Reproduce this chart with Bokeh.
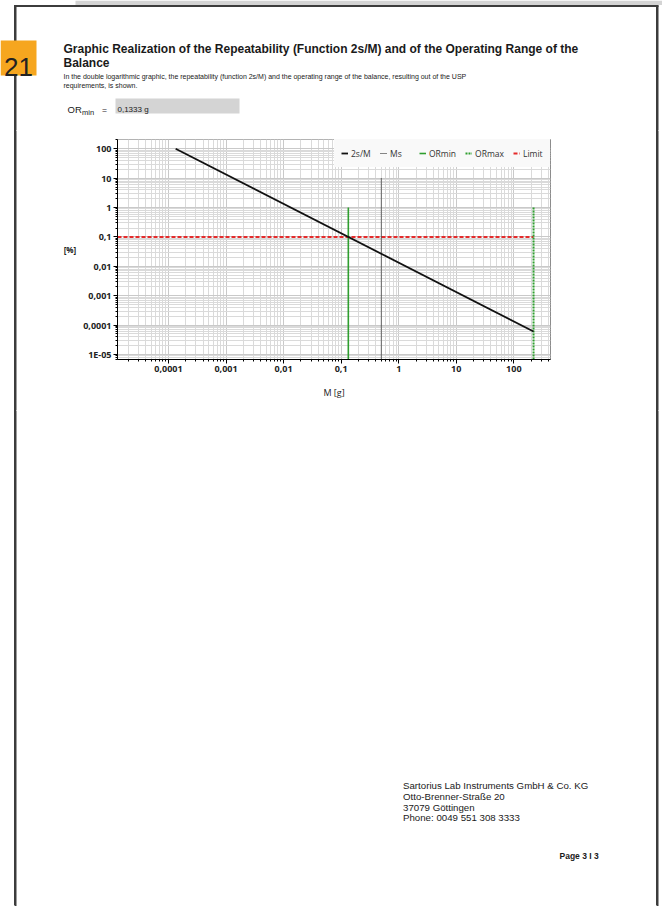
from bokeh.plotting import figure
from bokeh.layouts import column, row
from bokeh.models import Range1d, FixedTicker, CustomJSTickFormatter, Legend, LegendItem
from bokeh.core.properties import value
from bokeh.embed import file_html
from bokeh.resources import INLINE

# ---------------- data ----------------
curve_mass_g = [1.333e-4, 220.0]          # 2s/M curve end points (M in g)
curve_rep_pct = [100.0, 6.06e-5]          # 2s/M in %
ms_mass_g = [0.5, 0.5]
ms_top_pct = 10.0
ormin_mass_g = [0.1333, 0.1333]
ormax_mass_g = [220.0, 220.0]
or_top_pct = 1.0
limit_pct = [0.1, 0.1]

x_tick_values = [1e-4, 1e-3, 1e-2, 1e-1, 1.0, 10.0, 100.0]
x_tick_labels = ["0,0001", "0,001", "0,01", "0,1", "1", "10", "100"]
y_tick_values = [1e-5, 1e-4, 1e-3, 1e-2, 1e-1, 1.0, 10.0, 100.0]
y_tick_labels = ["1E-05", "0,0001", "0,001", "0,01", "0,1", "1", "10", "100"]

legend_labels = ["2s/M", "Ms", "ORmin", "ORmax", "Limit"]

title_lines = ["Graphic Realization of the Repeatability (Function 2s/M) and of the Operating Range of the",
               "Balance"]
desc_lines = ["In the double logarithmic graphic, the repeatability (function 2s/M) and the operating range of the balance, resulting out of the USP",
              "requirements, is shown."]
ormin_text = "0,1333 g"
footer_lines = ["Sartorius Lab Instruments GmbH & Co. KG", "Otto-Brenner-Straße 20",
                "37079 Göttingen", "Phone: 0049 551 308 3333"]
page_text = "Page 3 I 3"

# ---------------- styling ----------------
BORDER = "#3c3c3c"
PDF_FONT = "Liberation Sans"
CHART_FONT = "Open Sans"
X_LO, X_HI = 10 ** -4.885, 10 ** 2.637
Y_LO, Y_HI = 10 ** -5.171, 10 ** 2.317


def no_align(fig):
    try:
        fig.frame_align = False
    except Exception:
        pass


def deco(x0, x1, y0, y1):
    p = figure(width=x1 - x0, height=y1 - y0, x_range=Range1d(x0, x1), y_range=Range1d(y1, y0),
               output_backend="svg", toolbar_location=None, x_axis_location=None,
               y_axis_location=None, min_border=0, outline_line_color=None)
    p.grid.visible = False
    p.background_fill_alpha = 0
    p.border_fill_alpha = 0
    no_align(p)
    return p


def txt(p, x, y, s, size, bold=False, align="left", color="#1a1a1a", font=PDF_FONT):
    p.text(x=[x], y=[y], text=[s], text_font=value(font), text_font_size=size,
           text_font_style="bold" if bold else "normal", text_align=align,
           text_baseline="alphabetic", text_color=color)


def page_edges(fig, y0, y1):
    fig.segment(x0=[15, 657], y0=[y0 - 20, y0 - 20], x1=[15, 657], y1=[y1 + 20, y1 + 20],
                line_color=BORDER, line_width=2)


# ---------------- header ----------------
hdr = deco(0, 662, 0, 130)
hdr.quad(left=[75], right=[662], top=[0], bottom=[4.5], fill_color="#d4d4d4", line_color=None)
hdr.segment(x0=[15, 657], y0=[5, 5], x1=[15, 657], y1=[160, 160], line_color=BORDER, line_width=2)
hdr.segment(x0=[14], y0=[5.5], x1=[658], y1=[5.5], line_color=BORDER, line_width=2)
hdr.quad(left=[0], right=[36], top=[40], bottom=[75], fill_color="#f6a61f", line_color=None)
txt(hdr, 18, 66.5, "21", "26px", align="center", color="#222222")
txt(hdr, 63, 48, title_lines[0], "12px", bold=True)
txt(hdr, 63, 62, title_lines[1], "12px", bold=True)
txt(hdr, 63, 76, desc_lines[0], "7px")
txt(hdr, 63, 84.5, desc_lines[1], "7px")
txt(hdr, 67, 109, "OR", "9.5px")
txt(hdr, 81.5, 112, "min", "7.5px")
txt(hdr, 101.5, 109, "=", "8.5px")
hdr.quad(left=[115], right=[239], top=[98], bottom=[113], fill_color="#d4d4d4", line_color=None)
txt(hdr, 117, 109, ormin_text, "8px")

# ---------------- chart row ----------------
lft = deco(0, 60, 130, 410)
page_edges(lft, 130, 410)
rgt = deco(620, 662, 130, 410)
page_edges(rgt, 130, 410)

p = figure(width=560, height=280, x_axis_type="log", y_axis_type="log",
           x_range=Range1d(X_LO, X_HI), y_range=Range1d(Y_LO, Y_HI),
           output_backend="svg", toolbar_location=None,
           min_border_left=57, min_border_right=70, min_border_top=9, min_border_bottom=51)
no_align(p)
p.background_fill_color = "white"
p.border_fill_alpha = 0
p.outline_line_color = "#8c8c8c"

fmt_code = """
for (let i = 0; i < vals.length; i++) {
  if (Math.abs(Math.log10(tick) - Math.log10(vals[i])) < 1e-6) { return labels[i]; }
}
return '';
"""
minor = [k * 10.0 ** n for n in range(-7, 4) for k in range(2, 10)]
xt = FixedTicker(ticks=x_tick_values, minor_ticks=minor)
yt = FixedTicker(ticks=y_tick_values, minor_ticks=minor)
p.xaxis[0].ticker = xt
p.yaxis[0].ticker = yt
p.xgrid[0].ticker = xt
p.ygrid[0].ticker = yt
p.xaxis[0].formatter = CustomJSTickFormatter(args=dict(vals=x_tick_values, labels=x_tick_labels), code=fmt_code)
p.yaxis[0].formatter = CustomJSTickFormatter(args=dict(vals=y_tick_values, labels=y_tick_labels), code=fmt_code)

for g in (p.xgrid[0], p.ygrid[0]):
    g.grid_line_color = "#c9c9c9"
    g.grid_line_width = 1
    g.minor_grid_line_color = "#dadada"
    g.minor_grid_line_width = 1

for ax in (p.xaxis[0], p.yaxis[0]):
    ax.axis_line_color = "black"
    ax.major_tick_line_color = "black"
    ax.minor_tick_line_color = "black"
    ax.major_tick_out = 4
    ax.major_tick_in = 0
    ax.minor_tick_out = 2
    ax.minor_tick_in = 0
    ax.major_label_text_font = CHART_FONT
    ax.major_label_text_font_size = "9px"
    ax.major_label_text_font_style = "bold"
    ax.major_label_text_color = "#222222"
    ax.major_label_standoff = 2
    ax.axis_label_text_font = CHART_FONT
    ax.axis_label_text_color = "#222222"

p.xaxis[0].axis_label = "M [g]"
p.xaxis[0].axis_label_text_font_size = "9px"
p.xaxis[0].axis_label_text_font_style = "normal"
p.xaxis[0].axis_label_standoff = 11
p.yaxis[0].axis_label = "[%]"
p.yaxis[0].axis_label_text_font_size = "8px"
p.yaxis[0].axis_label_text_font_style = "bold"
p.yaxis[0].axis_label_standoff = 4
try:
    p.yaxis[0].axis_label_orientation = "horizontal"
except Exception:
    pass

r_limit = p.line(x=[X_LO, ormax_mass_g[0]], y=limit_pct, line_color="#e52b2b", line_width=2, line_dash="4 2")
r_ormin = p.line(x=ormin_mass_g, y=[Y_LO, or_top_pct], line_color="#2f9e2f", line_width=1.6)
r_ormax = p.line(x=ormax_mass_g, y=[Y_LO, or_top_pct], line_color="#2f9e2f", line_width=2, line_dash="2 1")
r_ms = p.line(x=ms_mass_g, y=[Y_LO, ms_top_pct], line_color="#111111", line_width=1.2, line_dash="1 1")
r_curve = p.line(x=curve_mass_g, y=curve_rep_pct, line_color="#111111", line_width=1.8)

legend = Legend(items=[LegendItem(label=lab, renderers=[r]) for lab, r in
                       zip(legend_labels, [r_curve, r_ms, r_ormin, r_ormax, r_limit])],
                orientation="horizontal", location="top_right", margin=0, padding=7,
                spacing=9, glyph_width=7, glyph_height=14, label_standoff=3,
                label_text_font=CHART_FONT, label_text_font_size="8.5px", label_text_color="#333333",
                background_fill_color="#f9f9f9", background_fill_alpha=1, border_line_alpha=0)
p.add_layout(legend)

# ---------------- footer ----------------
ftr = deco(0, 662, 410, 906)
page_edges(ftr, 410, 906)
for i, s in enumerate(footer_lines):
    txt(ftr, 402.5, 785 + i * 10.8, s, "9.7px")
txt(ftr, 559, 855, page_text, "8.5px", bold=True)

# page frame's vertical edges as a page background, so they run through the gaps between panels
page_css = {
    "background-image": f"linear-gradient({BORDER}, {BORDER}), linear-gradient({BORDER}, {BORDER})",
    "background-size": "2px 900px, 2px 900px",
    "background-position": "14px 5px, 656px 5px",
    "background-repeat": "no-repeat",
}
layout = column(hdr, row(lft, p, rgt), ftr, styles=page_css)
open("out.html", "w").write(file_html(layout, INLINE))
